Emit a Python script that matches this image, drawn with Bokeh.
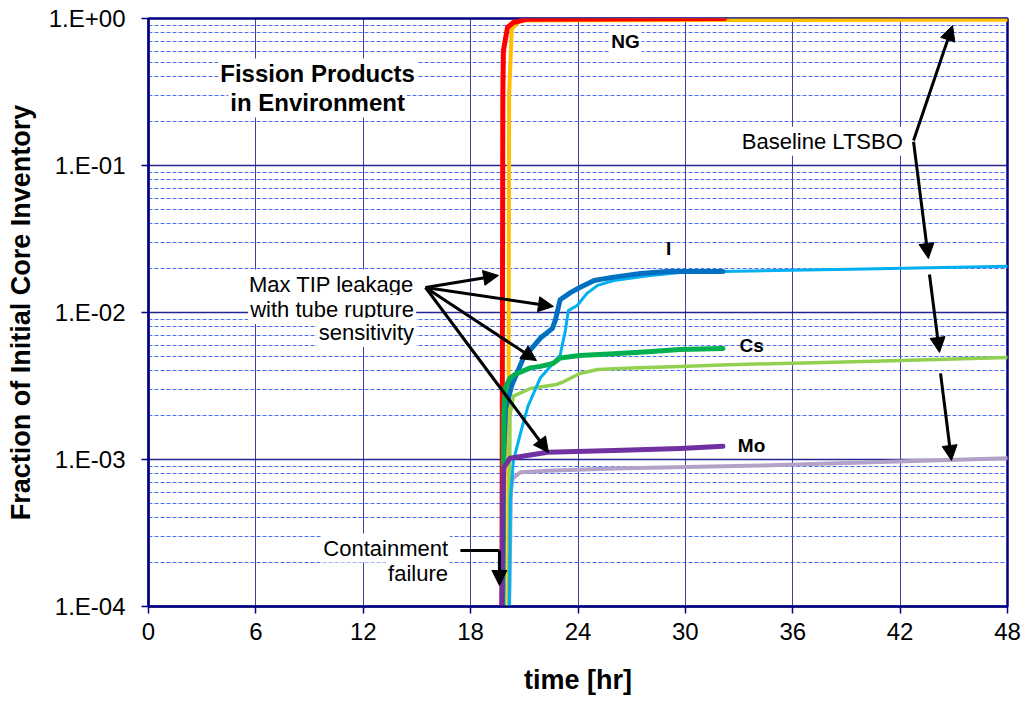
from bokeh.plotting import figure
from bokeh.models import (Range1d, FixedTicker, CustomJSTickFormatter, Label,
                          Arrow, NormalHead)
from bokeh.embed import file_html
from bokeh.resources import INLINE

# ---------------- data ----------------
hour_ticks = [0, 6, 12, 18, 24, 30, 36, 42, 48]
decade_ticks = [1e-4, 1e-3, 1e-2, 1e-1, 1.0]

# Noble gases
ng_base_t = [20.10, 20.15, 20.30, 20.78, 32.0, 48.0]
ng_base_v = [1e-4, 0.30, 0.85, 0.97, 0.978, 0.98]
ng_max_t = [19.75, 19.80, 19.83, 20.06, 20.39, 21.17, 32.2]
ng_max_v = [1e-4, 0.30, 0.60, 0.87, 0.94, 0.99, 1.0]

# Iodine
i_base_t = [20.17, 20.22, 20.39, 20.78, 21.2, 21.9, 23.0, 23.3, 23.46, 23.97,
            24.5, 25.1, 26.0, 27.9, 29.7, 32.1, 40.0, 48.0]
i_base_v = [1e-4, 5.3e-4, 9.8e-4, 1.5e-3, 2.3e-3, 3.6e-3, 5.1e-3, 7.6e-3, 1.03e-2,
            1.12e-2, 1.35e-2, 1.53e-2, 1.65e-2, 1.78e-2, 1.87e-2, 1.9e-2, 1.98e-2, 2.06e-2]
i_max_t = [19.80, 19.85, 19.95, 20.3, 20.95, 21.9, 22.57, 22.74, 23.0, 23.6,
           24.1, 24.9, 26.0, 27.5, 29.0, 32.1]
i_max_v = [1e-4, 1e-3, 2.2e-3, 3.2e-3, 4.9e-3, 6.7e-3, 7.8e-3, 8.9e-3, 1.22e-2,
           1.37e-2, 1.48e-2, 1.65e-2, 1.74e-2, 1.84e-2, 1.9e-2, 1.9e-2]

# Cesium
cs_base_t = [20.15, 20.20, 20.39, 21.34, 22.8, 23.1, 24.1, 25.1, 27.0, 29.7, 32.0, 40.0, 48.0]
cs_base_v = [1e-4, 2.0e-3, 2.7e-3, 3.04e-3, 3.24e-3, 3.34e-3, 3.85e-3, 4.1e-3,
             4.2e-3, 4.3e-3, 4.4e-3, 4.65e-3, 4.95e-3]
cs_max_t = [19.80, 19.85, 19.94, 20.22, 20.5, 21.34, 21.9, 22.6, 23.0, 24.1, 26.0, 27.9, 29.7, 32.1]
cs_max_v = [1e-4, 2.0e-3, 3.1e-3, 3.6e-3, 3.8e-3, 4.2e-3, 4.3e-3, 4.5e-3, 4.9e-3,
            5.1e-3, 5.25e-3, 5.4e-3, 5.6e-3, 5.7e-3]

# Molybdenum
mo_base_t = [20.15, 20.25, 20.34, 20.78, 22.3, 26.0, 34.2, 48.0]
mo_base_v = [1e-4, 6e-4, 7.4e-4, 8.2e-4, 8.4e-4, 8.7e-4, 9.1e-4, 1.02e-3]
mo_max_t = [19.75, 19.80, 19.85, 20.2, 22.3, 26.0, 29.7, 32.1]
mo_max_v = [1e-4, 5e-4, 8.8e-4, 1.02e-3, 1.12e-3, 1.15e-3, 1.19e-3, 1.23e-3]

FONT = "Liberation Sans"
NAVY = "#000080"

p = figure(frame_width=859, frame_height=588,
           min_border_left=148, min_border_right=15, min_border_top=18, min_border_bottom=98,
           x_range=Range1d(0, 48), y_range=Range1d(1e-4, 1.0), y_axis_type="log",
           output_backend="svg", toolbar_location=None,
           background_fill_color="white", border_fill_color="white")

p.outline_line_color = NAVY
p.outline_line_width = 2.5

# grids
minor_pos = [k * d for d in [1e-4, 1e-3, 1e-2, 1e-1] for k in range(2, 10)]
p.ygrid.ticker = FixedTicker(ticks=decade_ticks, minor_ticks=minor_pos)
p.ygrid.grid_line_color = NAVY
p.ygrid.grid_line_width = 1.5
p.ygrid.grid_line_alpha = 0.85
p.ygrid.minor_grid_line_color = "#2a55f0"
p.ygrid.minor_grid_line_dash = "4 2"
p.ygrid.minor_grid_line_width = 1
p.ygrid.minor_grid_line_alpha = 0.85

p.xgrid.ticker = FixedTicker(ticks=hour_ticks)
p.xgrid.grid_line_color = NAVY
p.xgrid.grid_line_width = 1
p.xgrid.grid_line_alpha = 0.75

# axes
p.xaxis.ticker = FixedTicker(ticks=hour_ticks, minor_ticks=[])
p.yaxis.ticker = FixedTicker(ticks=decade_ticks, minor_ticks=[])
p.yaxis.formatter = CustomJSTickFormatter(code="""
const e = Math.round(Math.log10(tick));
const a = Math.abs(e);
return '1.E' + (e < 0 ? '-' : '+') + (a < 10 ? '0' : '') + a;
""")
for ax in (p.xaxis, p.yaxis):
    ax.axis_line_color = NAVY
    ax.axis_line_width = 2
    ax.major_tick_line_color = NAVY
    ax.major_tick_line_width = 1.5
    ax.major_tick_out = 7
    ax.major_tick_in = 0
    ax.minor_tick_line_color = None
    ax.major_label_text_font = FONT
    ax.major_label_text_font_size = "24px"
    ax.major_label_text_color = "black"
    ax.axis_label_text_font = FONT
    ax.axis_label_text_font_size = "27px"
    ax.axis_label_text_font_style = "bold"
    ax.axis_label_text_color = "black"
p.xaxis.major_label_standoff = 9
p.yaxis.major_label_standoff = 16
p.xaxis.axis_label = "time [hr]"
p.yaxis.axis_label = "Fraction of Initial Core Inventory"
p.xaxis.axis_label_standoff = 22
p.yaxis.axis_label_standoff = 10

# curves (baseline first, max TIP on top)
def draw(t, v, color, w):
    p.line(t, v, line_color=color, line_width=w, line_join="round", line_cap="round")

draw(ng_base_t, ng_base_v, "#FFC000", 4)
draw(mo_base_t, mo_base_v, "#B3A2C7", 4)
draw(cs_base_t, cs_base_v, "#92D050", 3.5)
draw(i_base_t, i_base_v, "#00B0F0", 3)
draw(ng_max_t, ng_max_v, "#FF0000", 5)
draw(i_max_t, i_max_v, "#0070C0", 5)
draw(cs_max_t, cs_max_v, "#00B050", 5)
draw(mo_max_t, mo_max_v, "#7030A0", 5)

# text annotations
def label(x, y, text, size, bold=False, align="center", bg=True):
    lab = Label(x=x, y=y, text=text, text_font=FONT, text_font_size=size,
                text_font_style="bold" if bold else "normal", text_color="black",
                text_align=align, text_baseline="middle", padding=2,
                background_fill_color="white" if bg else None)
    p.add_layout(lab)

label(26.65, 0.70, "NG", "19px", bold=True)
label(29.06, 0.0272, "I", "19px", bold=True, bg=False)
label(33.7, 5.95e-3, "Cs", "19px", bold=True, bg=False)
label(33.7, 1.24e-3, "Mo", "19px", bold=True, bg=False)
label(9.45, 0.42, "Fission Products", "24px", bold=True)
label(9.45, 0.27, "in Environment", "24px", bold=True)
label(37.65, 0.146, "Baseline LTSBO", "22px")
label(14.95, 0.0156, "Max TIP leakage", "22px", align="right")
label(14.95, 0.0105, "with tube rupture", "22px", align="right")
label(14.95, 0.0073, "sensitivity", "22px", align="right")
label(16.85, 2.5e-4, "Containment", "22px", align="right")
label(16.85, 1.68e-4, "failure", "22px", align="right")

# arrows
def arrow(x0, y0, x1, y1):
    p.add_layout(Arrow(x_start=x0, y_start=y0, x_end=x1, y_end=y1,
                       line_color="black", line_width=3,
                       end=NormalHead(size=15, fill_color="black", line_color="black")))

arrow(15.48, 0.01479, 19.56, 0.01786)
arrow(15.48, 0.01479, 22.63, 0.0110)
arrow(15.48, 0.01479, 21.68, 4.71e-3)
arrow(15.48, 0.01479, 22.35, 1.116e-3)

arrow(42.75, 0.148, 44.93, 0.896)
arrow(42.75, 0.145, 43.58, 0.0233)
arrow(43.64, 0.01815, 44.2, 5.35e-3)
arrow(44.26, 3.85e-3, 44.87, 9.85e-4)

p.line([17.43, 19.61], [2.4e-4, 2.4e-4], line_color="black", line_width=3)
arrow(19.61, 2.4e-4, 19.61, 1.39e-4)

open("out.html", "w").write(file_html(p, INLINE))
